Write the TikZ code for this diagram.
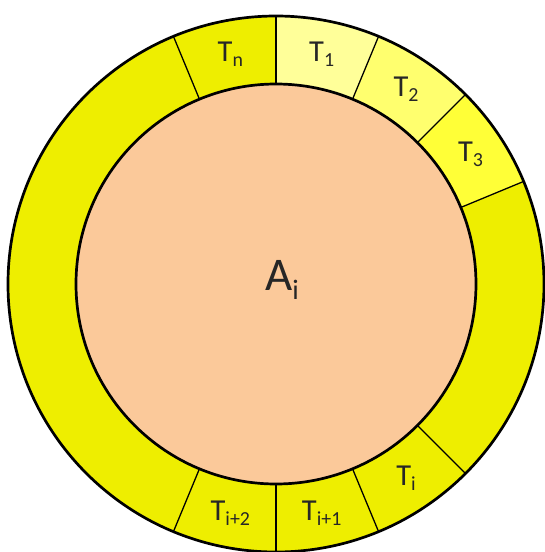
\documentclass[tikz,border=0pt]{standalone}
\usepackage{fontspec}
\setmainfont{Carlito}
\usetikzlibrary{calc}
\definecolor{ringyellow}{RGB}{238,238,0}
\definecolor{tonepale}{RGB}{255,255,153}
\definecolor{tonelight}{RGB}{255,255,110}
\definecolor{tonemid}{RGB}{255,255,55}
\definecolor{corepeach}{RGB}{251,201,154}
\tikzset{
    ring/.style={draw=black, line width=2.3pt},
    divider/.style={draw=black, line width=1.1pt},
    tlabel/.style={font=\fontsize{26}{28}\selectfont, inner sep=0pt, text=black!85},
    alabel/.style={font=\fontsize{40}{44}\selectfont, inner sep=0pt, text=black!85},
}
\newcommand{\tsub}[1]{\raisebox{-0.35ex}{\fontsize{17}{19}\selectfont #1}}
\newcommand{\asub}[1]{\raisebox{-0.4ex}{\fontsize{24}{26}\selectfont #1}}

\begin{document}
\begin{tikzpicture}
    \useasboundingbox (-8.28,-8.04) rectangle (8.07,8.52);
    \fill[ringyellow] (0,0) circle (8.04);
    \fill[tonepale] (67.5:6) arc (67.5:90:6) -- (90:8.04) arc (90:67.5:8.04) -- cycle;
    \fill[tonelight] (45:6) arc (45:67.5:6) -- (67.5:8.04) arc (67.5:45:8.04) -- cycle;
    \fill[tonemid] (22.5:6) arc (22.5:45:6) -- (45:8.04) arc (45:22.5:8.04) -- cycle;
    \foreach \a in {112.5,90,67.5,45,22.5,-45,-67.5,-90,-112.5}
        \draw[divider] (\a:6) -- (\a:8.04);
    \draw[ring, fill=corepeach] (0,0) circle (6);
    \draw[ring] (0,0) circle (8.04);
    \node[alabel] (core) at (0.18,0.12) {A\asub{i}};
    \node[tlabel] (tn) at (101.25:7.02) {T\tsub{n}};
    \node[tlabel] (t1) at (78.75:7.02) {T\tsub{1}};
    \node[tlabel] (t2) at (56.25:7.02) {T\tsub{2}};
    \node[tlabel] (t3) at (33.75:7.02) {T\tsub{3}};
    \node[tlabel] (ti) at (-56.25:7.02) {T\tsub{i}};
    \node[tlabel] (ti1) at (-78.75:7.02) {T\tsub{i+1}};
    \node[tlabel] (ti2) at (-101.25:7.02) {T\tsub{i+2}};
\end{tikzpicture}
\end{document}
